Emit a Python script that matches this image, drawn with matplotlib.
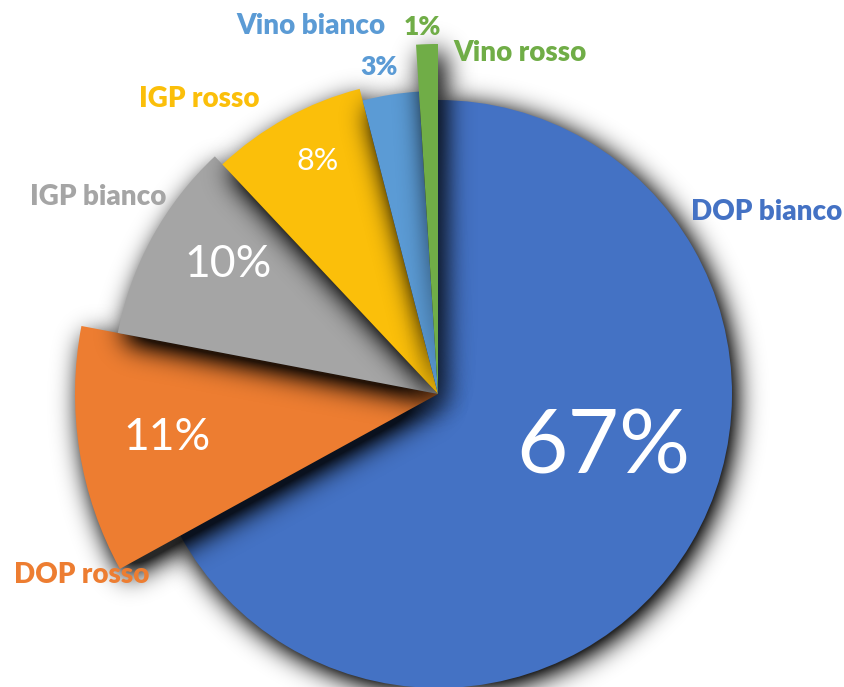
import numpy as np
import matplotlib.pyplot as plt

# shares of production by wine type (percent)
labels = ["DOP bianco", "DOP rosso", "IGP bianco", "IGP rosso", "Vino bianco", "Vino rosso"]
shares = [67, 11, 10, 8, 3, 1]
pct_labels = ["67%", "11%", "10%", "8%", "3%", "1%"]
colors = ["#4472C4", "#ED7D31", "#A5A5A5", "#FBBF0A", "#5B9BD5", "#70AD47"]

plt.rcParams['font.family'] = ['Lato', 'DejaVu Sans']

W, H = 845, 687
fig = plt.figure(figsize=(8.45, 6.87), dpi=100)
ax = fig.add_axes([0, 0, 1, 1])

cx, cy = 438, 293
radii = [294, 363, 326, 315, 303, 350]

wedges, _ = ax.pie(shares, colors=colors, startangle=90, counterclock=False,
                   center=(cx, cy), radius=radii[0])
for w, r in zip(wedges, radii):
    w.set_radius(r)


# soft drop shadows, one per slice, drawn just under that slice
yy, xx = np.mgrid[0:H, 0:W] + 0.5


def blur(a, sigma):
    k = np.arange(-3 * sigma, 3 * sigma + 1)
    k = np.exp(-k ** 2 / (2.0 * sigma ** 2))
    k /= k.sum()
    a = np.apply_along_axis(lambda v: np.convolve(v, k, mode='same'), 0, a)
    a = np.apply_along_axis(lambda v: np.convolve(v, k, mode='same'), 1, a)
    return a


def wedge_mask(w, dx, dy):
    x0, y0 = w.center
    X = xx - x0 - dx
    Y = yy - y0 - dy
    d = np.hypot(X, Y)
    ang = np.degrees(np.arctan2(Y, X)) % 360
    span = w.theta2 - w.theta1
    return ((d <= w.r) & (((ang - w.theta1) % 360) <= span)).astype(float)


for i, w in enumerate(wedges):
    w.set_zorder(2 * i + 2)
    if i == 0:
        m = blur(wedge_mask(w, 4, -5), 13) * 1.3
    else:
        m = blur(wedge_mask(w, 6, -9), 13) * 1.3
    img = np.zeros((H, W, 4))
    img[..., 3] = np.clip(m, 0, 0.85)
    ax.imshow(img, extent=(0, W, 0, H), origin='lower', zorder=2 * i + 1,
              interpolation='bilinear')

# percentage labels
pct_pos = [(603, 213), (167, 237), (228, 410), (318, 517), (379, 612), (422, 652)]
pct_size = [64, 32, 32, 22, 19, 19]
pct_color = ["white", "white", "white", "white", colors[4], colors[5]]
pct_weight = ["normal", "normal", "normal", "normal", "heavy", "heavy"]
for t, (x, y), s, c, fw in zip(pct_labels, pct_pos, pct_size, pct_color, pct_weight):
    ax.text(x, y, t, ha='center', va='baseline', fontsize=s, color=c,
            fontweight=fw, zorder=50)

# category labels
name_pos = [(767, 467), (82, 104), (98, 482), (199, 580), (311, 653), (520, 626)]
for t, (x, y), c in zip(labels, name_pos, colors):
    ax.text(x, y, t, ha='center', va='baseline', fontsize=20, color=c,
            fontweight='heavy', zorder=50)

ax.set_xlim(0, W)
ax.set_ylim(0, H)
ax.set_aspect('equal')
ax.axis('off')

plt.savefig("out.png", dpi=100)
